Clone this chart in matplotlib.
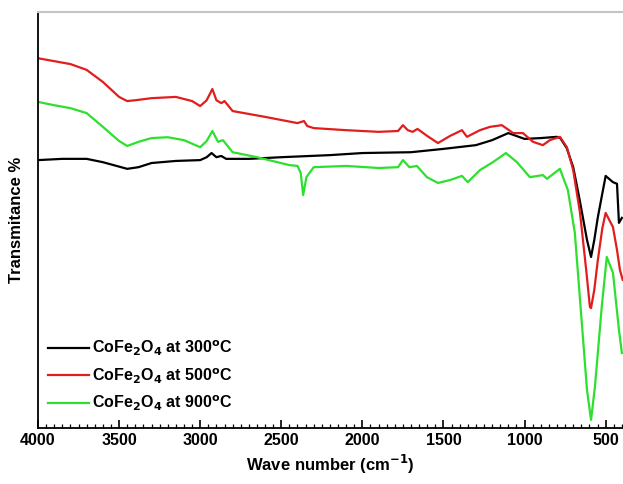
import matplotlib.pyplot as plt
from matplotlib.ticker import MultipleLocator

plt.rcParams['font.family'] = ['Liberation Sans', 'DejaVu Sans']
plt.rcParams['font.weight'] = 'bold'
plt.rcParams['mathtext.default'] = 'bf'

# FTIR spectra of CoFe2O4 calcined at different temperatures
wn_300 = [4000, 3850, 3700, 3600, 3450, 3380, 3300, 3150, 3000, 2960, 2930, 2900,
          2870, 2840, 2700, 2500, 2200, 2000, 1700, 1500, 1300, 1200, 1100, 1000,
          900, 800, 780, 740, 700, 660, 615, 590, 570, 548, 500, 455, 430, 418, 400]
t_300 = [64.4, 64.7, 64.7, 63.9, 62.3, 62.7, 63.7, 64.2, 64.4, 65.1, 66.1, 65.1,
         65.4, 64.7, 64.7, 65.1, 65.6, 66.1, 66.3, 67.1, 68.0, 69.2, 70.9, 69.5,
         69.7, 70.0, 69.7, 67.3, 62.7, 54.8, 45.2, 41.1, 45.2, 50.7, 60.6, 59.1,
         58.7, 49.3, 50.5]

wn_500 = [4000, 3900, 3800, 3700, 3600, 3500, 3450, 3400, 3300, 3150, 3050, 3000,
          2960, 2925, 2900, 2870, 2850, 2800, 2600, 2400, 2360, 2340, 2300, 2100,
          1900, 1780, 1750, 1720, 1690, 1660, 1600, 1534, 1460, 1386, 1355, 1275,
          1213, 1140, 1070, 1010, 948, 887, 844, 782, 739, 700, 658, 620, 597, 590,
          570, 548, 520, 500, 455, 430, 412, 395]
t_500 = [88.9, 88.2, 87.5, 86.1, 83.2, 79.6, 78.6, 78.8, 79.3, 79.6, 78.6, 77.4,
         78.8, 81.5, 78.8, 78.1, 78.6, 76.2, 74.8, 73.3, 73.8, 72.6, 72.1, 71.6,
         71.2, 71.4, 72.8, 71.6, 71.2, 71.9, 70.2, 68.5, 70.2, 71.6, 70.0, 71.6,
         72.4, 72.8, 70.9, 70.9, 68.8, 68.0, 69.2, 70.0, 67.5, 62.0, 51.7, 38.0,
         29.1, 28.8, 33.2, 40.4, 48.1, 51.7, 48.3, 42.8, 38.0, 35.6]

wn_900 = [4000, 3900, 3800, 3700, 3600, 3500, 3450, 3380, 3300, 3200, 3100, 3000,
          2960, 2925, 2890, 2860, 2800, 2650, 2450, 2400, 2380, 2365, 2345, 2300,
          2100, 1900, 1780, 1750, 1710, 1664, 1602, 1534, 1460, 1386, 1350, 1275,
          1195, 1115, 1047, 967, 887, 862, 782, 733, 690, 658, 615, 590, 566, 524,
          493, 455, 418, 400]
t_900 = [78.4, 77.6, 76.9, 75.7, 72.4, 69.0, 67.8, 68.8, 69.7, 69.9, 69.2, 67.5,
         69.0, 71.4, 68.8, 69.2, 66.3, 65.1, 63.2, 63.0, 61.3, 56.0, 60.3, 62.7,
         63.0, 62.5, 62.7, 64.4, 62.7, 63.0, 60.3, 58.9, 59.6, 60.6, 59.1, 62.0,
         63.9, 66.1, 63.9, 60.3, 60.8, 59.9, 62.3, 57.2, 46.9, 30.8, 9.1, 1.9,
         9.9, 29.1, 41.1, 37.3, 23.6, 18.0]

labels = ['CoFe$_2$O$_4$ at 300$^{o}$C',
          'CoFe$_2$O$_4$ at 500$^{o}$C',
          'CoFe$_2$O$_4$ at 900$^{o}$C']
colors = ['#000000', '#e01e1e', '#2ee02e']

fig = plt.figure(figsize=(6.23, 4.84), dpi=100)
ax = fig.add_axes([0.061, 0.116, 0.939, 0.859])

ax.plot(wn_300, t_300, color=colors[0], lw=1.6, label=labels[0])
ax.plot(wn_500, t_500, color=colors[1], lw=1.6, label=labels[1])
ax.plot(wn_900, t_900, color=colors[2], lw=1.6, label=labels[2])

ax.set_xlim(4000, 393)
ax.set_ylim(0, 100)
ax.set_yticks([])
ax.xaxis.set_major_locator(MultipleLocator(500))
ax.xaxis.set_minor_locator(MultipleLocator(50))
ax.tick_params(axis='x', which='major', direction='in', length=6, width=1.2,
               labelsize=11.5, pad=4)
ax.tick_params(axis='x', which='minor', direction='in', length=3, width=0.9)
for lab in ax.get_xticklabels():
    lab.set_fontweight('bold')

ax.spines['right'].set_visible(False)
ax.spines['top'].set_color('#c4c4c4')
ax.spines['top'].set_linewidth(1.5)
ax.spines['left'].set_linewidth(1.3)
ax.spines['bottom'].set_linewidth(1.3)

ax.set_xlabel('Wave number (cm$^{-1}$)', fontsize=12, fontweight='bold', labelpad=3)
ax.set_ylabel('Transmitance %', fontsize=12, fontweight='bold', labelpad=10)

ax.legend(loc='lower left', bbox_to_anchor=(0.017, 0.035), frameon=False,
          prop={'size': 11.5, 'weight': 'bold'}, handlelength=2.6,
          handletextpad=0.15, labelspacing=0.52, borderaxespad=0, borderpad=0)

fig.savefig('out.png', dpi=100)
